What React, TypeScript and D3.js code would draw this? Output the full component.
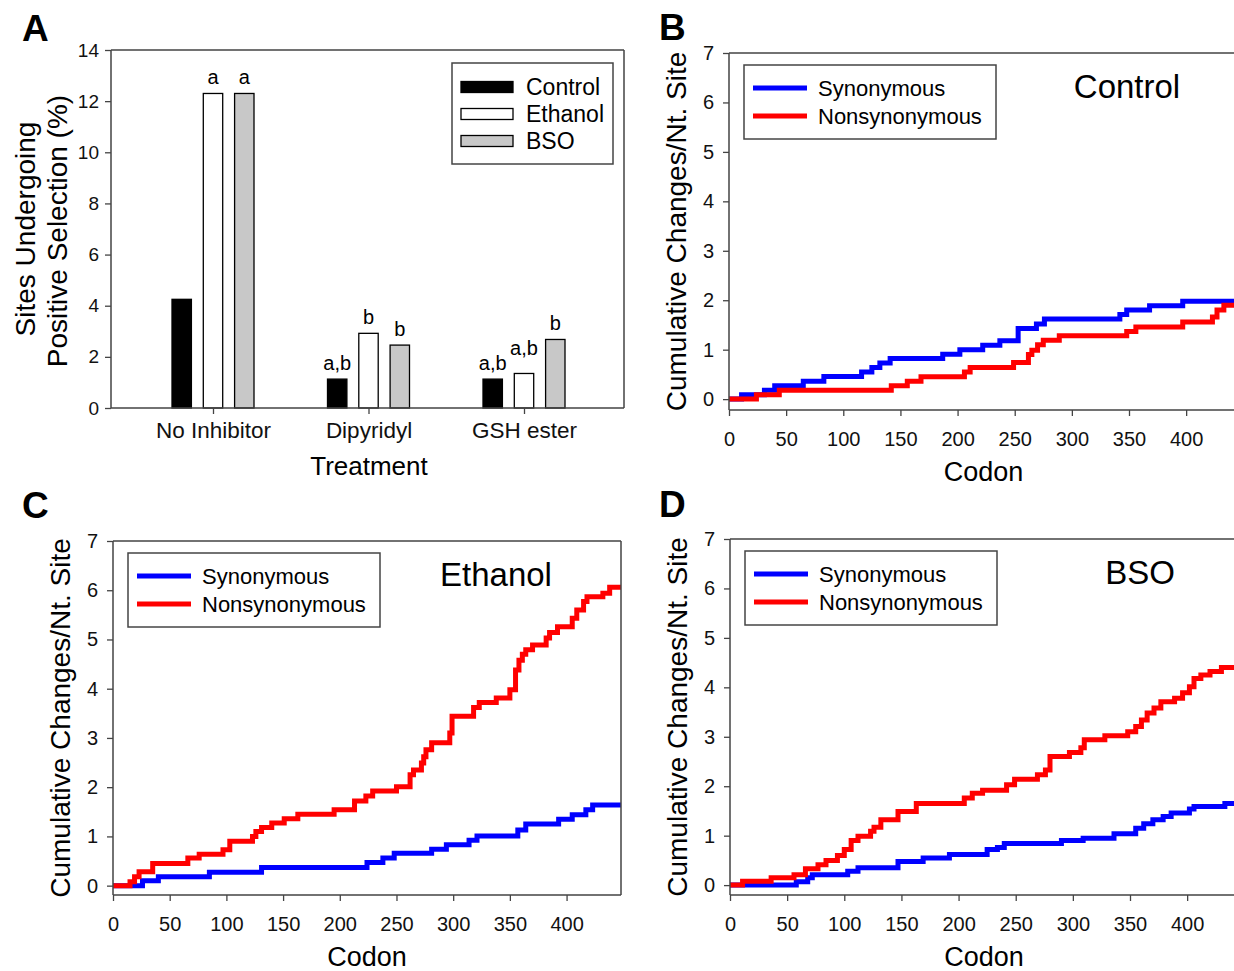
import React, { useEffect, useRef } from 'react';
import * as d3 from 'd3';

const FONT = '"Liberation Sans", Arial, Helvetica, sans-serif';

// panel A: percent of sites under positive selection
const treatments = ['No Inhibitor', 'Dipyridyl', 'GSH ester'];
const groups = ['Control', 'Ethanol', 'BSO'];
const controlPct = [4.25, 1.13, 1.13];
const ethanolPct = [12.3, 2.92, 1.35];
const bsoPct = [12.3, 2.46, 2.68];
const controlSig = ['', 'a,b', 'a,b'];
const ethanolSig = ['a', 'b', 'a,b'];
const bsoSig = ['a', 'b', 'b'];
const pctTicks = [0, 2, 4, 6, 8, 10, 12, 14];

// panels B-D: cumulative changes per nt site, [codon, value]
const codonTicks = [0, 50, 100, 150, 200, 250, 300, 350, 400];
const changeTicks = [0, 1, 2, 3, 4, 5, 6, 7];

const controlSyn = [[0, 0], [11, 0.09], [31, 0.18], [40, 0.27], [65, 0.36], [83, 0.46], [116, 0.55], [125, 0.64], [132, 0.73], [141, 0.82], [187, 0.91], [202, 1.0], [222, 1.09], [237, 1.18], [253, 1.43], [269, 1.52], [276, 1.62], [342, 1.71], [348, 1.8], [368, 1.89], [397, 1.98], [448, 1.98]];
const controlNonsyn = [[0, 0], [24, 0.09], [44, 0.18], [142, 0.27], [156, 0.36], [168, 0.45], [206, 0.55], [211, 0.64], [249, 0.74], [262, 0.9], [265, 0.99], [270, 1.1], [275, 1.19], [289, 1.28], [348, 1.37], [356, 1.46], [397, 1.56], [423, 1.66], [427, 1.8], [433, 1.9], [448, 1.9]];

const ethanolSyn = [[0, 0], [26, 0.1], [40, 0.18], [85, 0.27], [131, 0.37], [224, 0.47], [238, 0.56], [248, 0.66], [281, 0.74], [294, 0.83], [314, 0.92], [321, 1.01], [357, 1.13], [364, 1.25], [393, 1.35], [405, 1.44], [417, 1.54], [423, 1.64], [448, 1.64]];
const ethanolNonsyn = [[0, 0], [15, 0.08], [19, 0.18], [23, 0.28], [35, 0.45], [66, 0.56], [76, 0.64], [97, 0.73], [103, 0.9], [123, 1.0], [126, 1.1], [131, 1.18], [140, 1.27], [151, 1.36], [163, 1.45], [195, 1.54], [213, 1.72], [223, 1.82], [229, 1.92], [250, 2.01], [262, 2.25], [265, 2.35], [272, 2.49], [274, 2.62], [276, 2.76], [281, 2.9], [297, 3.1], [299, 3.44], [318, 3.62], [323, 3.72], [338, 3.81], [350, 3.98], [355, 4.38], [358, 4.58], [361, 4.7], [364, 4.79], [370, 4.89], [382, 5.03], [385, 5.14], [392, 5.26], [405, 5.43], [409, 5.6], [415, 5.77], [418, 5.87], [432, 5.94], [438, 6.06], [448, 6.06]];

const bsoSyn = [[0, 0], [58, 0.07], [68, 0.15], [72, 0.21], [103, 0.28], [112, 0.35], [147, 0.48], [169, 0.55], [192, 0.62], [225, 0.72], [234, 0.76], [240, 0.84], [290, 0.9], [309, 0.95], [336, 1.04], [355, 1.15], [362, 1.24], [370, 1.32], [379, 1.39], [386, 1.46], [402, 1.54], [406, 1.59], [433, 1.65], [448, 1.65]];
const bsoNonsyn = [[0, 0], [11, 0.08], [36, 0.15], [56, 0.21], [66, 0.33], [77, 0.41], [84, 0.5], [94, 0.6], [100, 0.72], [106, 0.9], [112, 0.99], [123, 1.09], [126, 1.17], [132, 1.32], [147, 1.49], [163, 1.65], [205, 1.76], [212, 1.86], [221, 1.92], [242, 2.03], [249, 2.14], [269, 2.23], [276, 2.33], [280, 2.6], [297, 2.68], [307, 2.78], [310, 2.94], [328, 3.02], [348, 3.1], [355, 3.21], [360, 3.34], [365, 3.48], [371, 3.58], [377, 3.71], [389, 3.78], [396, 3.89], [402, 4.01], [406, 4.18], [412, 4.25], [420, 4.32], [430, 4.4], [448, 4.4]];

const FRAME = '#444';

function styleAxis(g, size) {
  g.attr('font-family', FONT).attr('font-size', size);
  g.select('.domain').remove();
  g.selectAll('.tick line').attr('stroke', FRAME).attr('stroke-width', 1.3);
  g.selectAll('.tick text').attr('fill', '#111');
}

function frame(g, l, r, t, b) {
  g.append('path')
    .attr('d', `M${l},${t}H${r}M${r},${t}V${b}M${l},${t}V${b}M${l},${b}H${r}`)
    .attr('fill', 'none').attr('stroke', FRAME).attr('stroke-width', 1.5);
}

function drawBars(svg) {
  const g = svg.append('g');
  const left = 111, right = 624, top = 50, bottom = 408;
  const y = d3.scaleLinear().domain([0, 14]).range([bottom, top]);
  const x = d3.scalePoint().domain(treatments).range([213, 524]);
  const xs = d3.scaleBand().domain(groups).range([-41, 41]).paddingInner(0.38);
  const values = [controlPct, ethanolPct, bsoPct];
  const sigs = [controlSig, ethanolSig, bsoSig];
  const fills = ['#000000', '#ffffff', '#c8c8c8'];
  const sigSize = 20;

  groups.forEach((grp, gi) => {
    g.selectAll('.bar' + gi)
      .data(values[gi])
      .enter().append('rect')
      .attr('x', (d, i) => x(treatments[i]) + xs(grp))
      .attr('y', d => y(d))
      .attr('width', xs.bandwidth())
      .attr('height', d => y(0) - y(d))
      .attr('fill', fills[gi])
      .attr('stroke', '#000').attr('stroke-width', 1.3);
  });

  // significance letters, lifted when they would collide with a neighbour
  treatments.forEach((t, i) => {
    let prev = null;
    groups.forEach((grp, gi) => {
      const label = sigs[gi][i];
      if (!label) return;
      const cx = x(t) + xs(grp) + xs.bandwidth() / 2;
      const w = label.length * 0.47 * sigSize;
      let ly = y(values[gi][i]) - 9;
      if (prev && Math.abs(cx - prev.cx) < (w + prev.w) / 2 + 6 && Math.abs(ly - prev.ly) < 16) {
        ly = prev.ly - 15;
      }
      g.append('text').attr('x', cx).attr('y', ly)
        .attr('text-anchor', 'middle')
        .attr('font-family', FONT).attr('font-size', sigSize)
        .text(label);
      prev = { cx, w, ly };
    });
  });

  const ya = g.append('g').attr('transform', `translate(${left},0)`)
    .call(d3.axisLeft(y).tickValues(pctTicks).tickSize(6).tickPadding(6));
  styleAxis(ya, 19);
  const xa = g.append('g').attr('transform', `translate(0,${bottom})`)
    .call(d3.axisBottom(x).tickSize(6).tickPadding(8));
  styleAxis(xa, 22.5);
  frame(g, left, right, top, bottom);

  g.append('text').attr('transform', 'translate(35,229) rotate(-90)')
    .attr('text-anchor', 'middle').attr('font-family', FONT).attr('font-size', 28)
    .text('Sites Undergoing');
  g.append('text').attr('transform', 'translate(67,231) rotate(-90)')
    .attr('text-anchor', 'middle').attr('font-family', FONT).attr('font-size', 28)
    .text('Positive Selection (%)');
  g.append('text').attr('x', 369).attr('y', 475)
    .attr('text-anchor', 'middle').attr('font-family', FONT).attr('font-size', 26)
    .text('Treatment');

  // legend
  const lg = g.append('g');
  lg.append('rect').attr('x', 452).attr('y', 63).attr('width', 161).attr('height', 101)
    .attr('fill', '#fff').attr('stroke', FRAME).attr('stroke-width', 1.5);
  groups.forEach((grp, i) => {
    const cy = 87 + i * 27;
    lg.append('rect').attr('x', 461).attr('y', cy - 5.5).attr('width', 52).attr('height', 11)
      .attr('fill', fills[i]).attr('stroke', '#000').attr('stroke-width', 1.3);
    lg.append('text').attr('x', 526).attr('y', cy + 8)
      .attr('font-family', FONT).attr('font-size', 23).text(grp);
  });
}

function drawSteps(svg, p) {
  const g = svg.append('g');
  const x = d3.scaleLinear().domain([0, 448]).range([p.left, p.right]);
  const y = d3.scaleLinear().domain([p.yMin, 7]).range([p.bottom, p.top]);
  const line = d3.line()
    .x(d => x(d[0]))
    .y(d => y(d[1]))
    .curve(d3.curveStepAfter);

  const clipId = 'clip' + p.label;
  g.append('clipPath').attr('id', clipId)
    .append('rect').attr('x', p.left).attr('y', p.top).attr('width', p.right - p.left).attr('height', p.bottom - p.top);

  g.append('path').datum(p.syn).attr('d', line)
    .attr('fill', 'none').attr('stroke', '#0000ff').attr('stroke-width', 5)
    .attr('clip-path', `url(#${clipId})`);
  g.append('path').datum(p.nonsyn).attr('d', line)
    .attr('fill', 'none').attr('stroke', '#ff0000').attr('stroke-width', 5)
    .attr('clip-path', `url(#${clipId})`);

  const ya = g.append('g').attr('transform', `translate(${p.left},0)`)
    .call(d3.axisLeft(y).tickValues(changeTicks).tickSize(6).tickPadding(9));
  styleAxis(ya, 20);
  const xa = g.append('g').attr('transform', `translate(0,${p.bottom})`)
    .call(d3.axisBottom(x).tickValues(codonTicks).tickSize(6).tickPadding(16));
  styleAxis(xa, 20);
  frame(g, p.left, p.right, p.top, p.bottom);

  g.append('text').attr('transform', `translate(${p.left - 43},${(p.top + p.bottom) / 2}) rotate(-90)`)
    .attr('text-anchor', 'middle').attr('font-family', FONT).attr('font-size', 28)
    .text('Cumulative Changes/Nt. Site');
  g.append('text').attr('x', (p.left + Math.min(p.right, 1238)) / 2).attr('y', p.bottom + 71)
    .attr('text-anchor', 'middle').attr('font-family', FONT).attr('font-size', 27)
    .text('Codon');
  g.append('text').attr('x', p.titleX).attr('y', p.top + 45)
    .attr('text-anchor', 'middle').attr('font-family', FONT).attr('font-size', 33)
    .text(p.title);

  // legend
  const lx = p.left + 15, ly = p.top + 12;
  const lg = g.append('g');
  lg.append('rect').attr('x', lx).attr('y', ly).attr('width', 252).attr('height', 74)
    .attr('fill', '#fff').attr('stroke', FRAME).attr('stroke-width', 1.5);
  [['Synonymous', '#0000ff'], ['Nonsynonymous', '#ff0000']].forEach((e, i) => {
    const cy = ly + 23 + i * 28;
    lg.append('line').attr('x1', lx + 9).attr('x2', lx + 63).attr('y1', cy).attr('y2', cy)
      .attr('stroke', e[1]).attr('stroke-width', 5);
    lg.append('text').attr('x', lx + 74).attr('y', cy + 7.5)
      .attr('font-family', FONT).attr('font-size', 22).text(e[0]);
  });
}

export default function App() {
  const ref = useRef(null);

  useEffect(() => {
    const svg = d3.select(ref.current);
    svg.selectAll('*').remove();
    svg.append('rect').attr('width', 1234).attr('height', 971).attr('fill', '#fff');

    drawBars(svg);
    drawSteps(svg, { left: 729, right: 1241, top: 53, bottom: 410, yMin: -0.22, syn: controlSyn, nonsyn: controlNonsyn, title: 'Control', titleX: 1127, label: 'B' });
    drawSteps(svg, { left: 113, right: 621, top: 541, bottom: 895, yMin: -0.19, syn: ethanolSyn, nonsyn: ethanolNonsyn, title: 'Ethanol', titleX: 496, label: 'C' });
    drawSteps(svg, { left: 730, right: 1242, top: 539, bottom: 895, yMin: -0.2, syn: bsoSyn, nonsyn: bsoNonsyn, title: 'BSO', titleX: 1140, label: 'D' });

    const labels = [['A', 22, 41], ['B', 659, 40], ['C', 22, 518], ['D', 659, 517]];
    svg.selectAll('.panel-label')
      .data(labels)
      .enter().append('text')
      .attr('x', d => d[1]).attr('y', d => d[2])
      .attr('font-family', FONT).attr('font-size', 37).attr('font-weight', 'bold')
      .text(d => d[0]);
  }, []);

  return (
    <svg
      ref={ref}
      width={1234}
      height={971}
      style={{ position: 'absolute', left: 0, top: 0, display: 'block' }}
    />
  );
}
